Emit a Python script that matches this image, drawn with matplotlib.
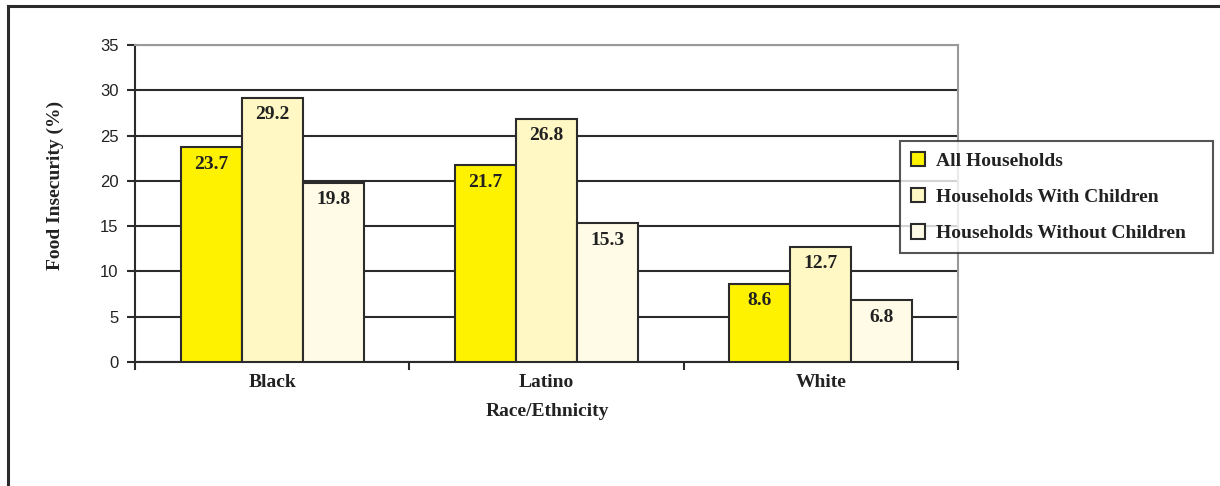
import matplotlib
matplotlib.use("Agg")
import matplotlib.pyplot as plt
from matplotlib.lines import Line2D
import numpy as np

categories = ["Black", "Latino", "White"]
series_names = ["All Households", "Households With Children", "Households Without Children"]
all_households = [23.7, 21.7, 8.6]
with_children = [29.2, 26.8, 12.7]
without_children = [19.8, 15.3, 6.8]
y_ticks = [0, 5, 10, 15, 20, 25, 30, 35]

colors = ["#FFF200", "#FFF8C4", "#FFFBE6"]
edge = "#2b2b2b"
serif = ["Liberation Serif", "DejaVu Serif"]
sans = ["Liberation Sans", "DejaVu Sans"]

fig = plt.figure(figsize=(12.2, 4.86), dpi=100)
ax = fig.add_axes([135 / 1220, 1 - 362 / 486, 823 / 1220, 317 / 486])

x = np.arange(len(categories))
w = 0.2226
for i, (vals, col, name) in enumerate(zip([all_households, with_children, without_children], colors, series_names)):
    bars = ax.bar(x + (i - 1) * w, vals, width=w, color=col, edgecolor=edge,
                  linewidth=1.5, label=name, zorder=3)
    for b, v in zip(bars, vals):
        ax.annotate(f"{v:.1f}", (b.get_x() + b.get_width() / 2, v),
                    xytext=(0, -12), textcoords="offset points",
                    ha="center", va="center", fontsize=14, fontweight="bold",
                    family=serif, color="#222222", zorder=4)

ax.set_xlim(-0.5, 2.5)
ax.set_ylim(0, 35)
ax.set_yticks(y_ticks)
ax.set_yticklabels([str(t) for t in y_ticks], family=sans, fontsize=12, color="#222222")
ax.set_xticks([-0.5, 0.5, 1.5, 2.5])
ax.set_xticklabels([])
ax.tick_params(axis="both", direction="out", length=6, width=1.5, color=edge)
ax.tick_params(axis="y", pad=6)
for xi, c in zip(x, categories):
    ax.text(xi, -1.3, c, ha="center", va="top", fontsize=14, fontweight="bold",
            family=serif, color="#222222")

ax.yaxis.grid(True, color="#2b2b2b", linewidth=1.5, zorder=0)
ax.set_axisbelow(True)
ax.spines["left"].set_color(edge)
ax.spines["left"].set_linewidth(1.5)
ax.spines["bottom"].set_color(edge)
ax.spines["bottom"].set_linewidth(1.5)
ax.spines["top"].set_color("#999999")
ax.spines["top"].set_linewidth(1.5)
ax.spines["right"].set_color("#999999")
ax.spines["right"].set_linewidth(1.5)

ax.set_ylabel("Food Insecurity (%)", family=serif, fontsize=14, fontweight="bold",
              color="#222222")
ax.yaxis.set_label_coords((64 - 135) / 823, 0.557)
fig.text(547 / 1220, 1 - 411 / 486, "Race/Ethnicity", ha="center", va="center",
         family=serif, fontsize=14, fontweight="bold", color="#222222")

handles, labels = ax.get_legend_handles_labels()
leg = fig.legend(handles, labels, loc="upper left",
                 bbox_to_anchor=(900 / 1220, 1 - 141 / 486, 313 / 1220, 0.0),
                 mode="expand",
                 prop={"family": serif, "weight": "bold", "size": 14},
                 frameon=True, fancybox=False, edgecolor=edge,
                 handlelength=0.75, handleheight=0.75, handletextpad=0.55,
                 labelspacing=0.95, borderpad=0.55, borderaxespad=0)
leg.get_frame().set_linewidth(1.5)
for t in leg.get_texts():
    t.set_color("#222222")

# outer frame
fig.add_artist(Line2D([8 / 1220, 1.0], [1 - 6 / 486, 1 - 6 / 486],
                      transform=fig.transFigure, color="#2b2b2b", linewidth=2.2))
fig.add_artist(Line2D([8 / 1220, 8 / 1220], [0.0, 1 - 6 / 486],
                      transform=fig.transFigure, color="#2b2b2b", linewidth=2.2))

fig.savefig("out.png", dpi=100, facecolor="white")
